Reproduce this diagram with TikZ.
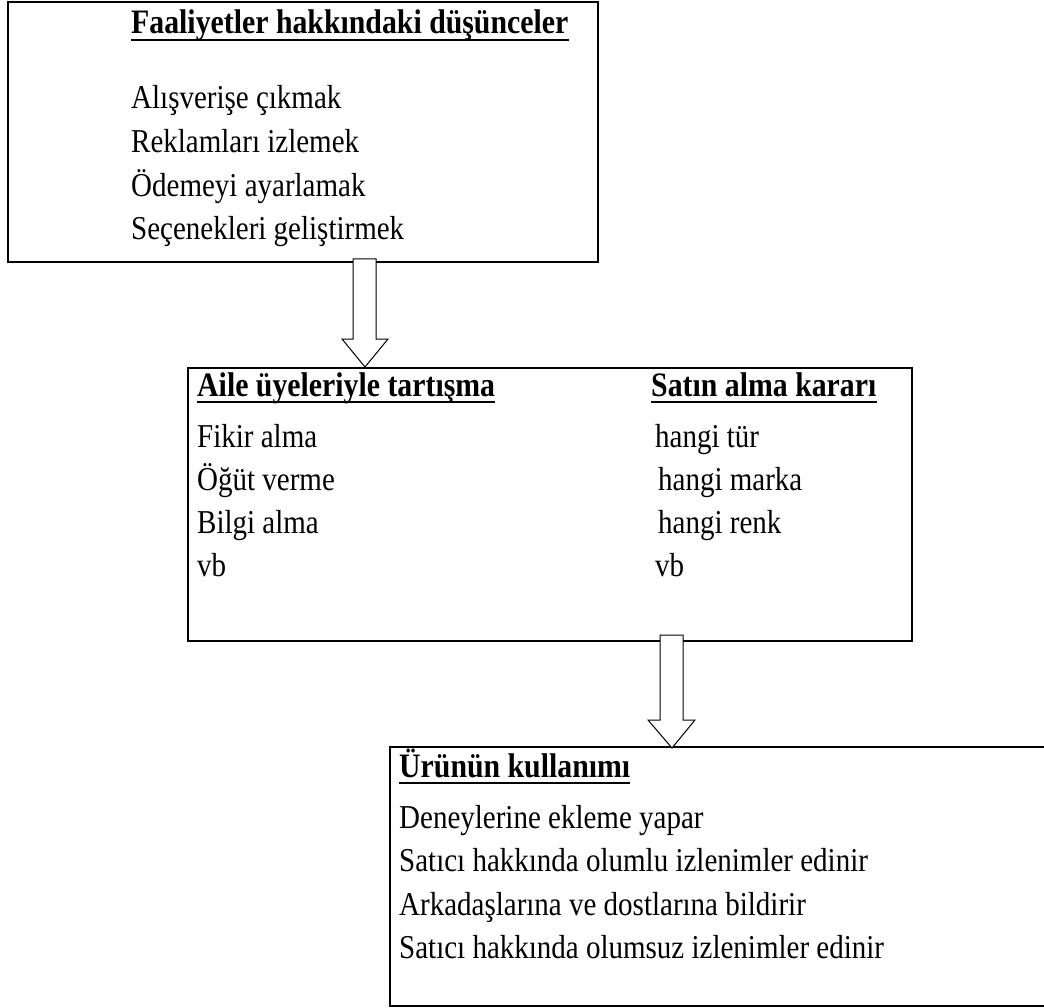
\documentclass[tikz,border=0pt]{standalone}
\usepackage{fontspec}
\setmainfont{Liberation Serif}
\newcommand{\vs}[1]{\scalebox{1}[1.15]{#1}}
\begin{document}
\begin{tikzpicture}[x=1pt,y=-1pt,
  box/.style={draw=black,line width=2pt,fill=white},
  txt/.style={anchor=base west,inner sep=0pt,font=\fontsize{29}{34}\selectfont},
  ttl/.style={txt,font=\fontsize{29.8}{34}\selectfont\bfseries},
  uline/.style={line width=2.2pt},
  blockarrow/.style={draw=black,line width=1pt,fill=white,line join=miter}]
\useasboundingbox (0,0) rectangle (1044,1008);
% boxes
\draw[box] (8,2) rectangle (598,262);
\draw[box] (188,368) rectangle (912,641);
\draw[line width=2pt] (1044,747) -- (390,747) -- (390,1006) -- (1044,1006);
% top box text
\node[ttl] (t0) at (131,34) {\vs{Faaliyetler hakkındaki düşünceler}};
\draw[uline] ([yshift=-6pt]t0.base west) -- ([yshift=-6pt]t0.base east);
\node[txt] (t1) at (131,109) {\vs{Alışverişe çıkmak}};
\node[txt] (t2) at (131,153) {\vs{Reklamları izlemek}};
\node[txt] (t3) at (131,197) {\vs{Ödemeyi ayarlamak}};
\node[txt] (t4) at (131,240) {\vs{Seçenekleri geliştirmek}};
% middle box text
\node[ttl] (m0) at (197,396) {\vs{Aile üyeleriyle tartışma}};
\draw[uline] ([yshift=-6pt]m0.base west) -- ([yshift=-6pt]m0.base east);
\node[txt] (m1) at (197,447) {\vs{Fikir alma}};
\node[txt] (m2) at (197,490) {\vs{Öğüt verme}};
\node[txt] (m3) at (197,533) {\vs{Bilgi alma}};
\node[txt] (m4) at (197,576) {\vs{vb}};
\node[ttl] (s0) at (651,396) {\vs{Satın alma kararı}};
\draw[uline] ([yshift=-6pt]s0.base west) -- ([yshift=-6pt]s0.base east);
\node[txt] (s1) at (655,447) {\vs{hangi tür}};
\node[txt] (s2) at (658,490) {\vs{hangi marka}};
\node[txt] (s3) at (658,533) {\vs{hangi renk}};
\node[txt] (s4) at (655,576) {\vs{vb}};
% bottom box text
\node[ttl] (b0) at (399,777) {\vs{Ürünün kullanımı}};
\draw[uline] ([yshift=-6pt]b0.base west) -- ([yshift=-6pt]b0.base east);
\node[txt] (b1) at (399,828) {\vs{Deneylerine ekleme yapar}};
\node[txt] (b2) at (399,871) {\vs{Satıcı hakkında olumlu izlenimler edinir}};
\node[txt] (b3) at (399,915) {\vs{Arkadaşlarına ve dostlarına bildirir}};
\node[txt] (b4) at (399,958) {\vs{Satıcı hakkında olumsuz izlenimler edinir}};
% block arrows
\draw[blockarrow] (353,259) -- (376,259) -- (376,339) -- (388,339) -- (365,367) -- (342,339) -- (353,339) -- cycle;
\draw[blockarrow] (660,635) -- (683,635) -- (683,720) -- (695,720) -- (672,748) -- (648,720) -- (660,720) -- cycle;
\end{tikzpicture}
\end{document}
